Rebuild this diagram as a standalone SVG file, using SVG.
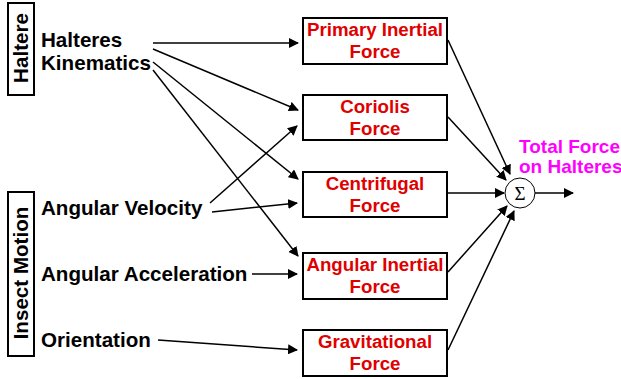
<svg xmlns="http://www.w3.org/2000/svg" width="621" height="379" viewBox="0 0 621 379">
<style>
.box{fill:#fff;stroke:#000;stroke-width:2}
.lbl{font-family:"Liberation Sans",Arial,sans-serif;font-weight:bold;font-size:20.6px;fill:#000}
.red{font-family:"Liberation Sans",Arial,sans-serif;font-weight:bold;font-size:18.7px;fill:#e00000;text-anchor:middle}
.mag{font-family:"Liberation Sans",Arial,sans-serif;font-weight:bold;font-size:19px;fill:#ff00ff}
.c{stroke:#000;stroke-width:1.5;fill:none;marker-end:url(#ah)}
</style>
<defs>
<marker id="ah" viewBox="0 0 10 10" refX="9" refY="5" markerWidth="10" markerHeight="10" markerUnits="userSpaceOnUse" orient="auto">
<path d="M0,0 L10,5 L0,10 z" fill="#000"/>
</marker>
</defs>
<rect width="621" height="379" fill="#fff"/>
<g id="haltere-group">
<rect class="box" x="8" y="3" width="26" height="92"/>
<text class="lbl" transform="translate(28,48) rotate(-90)" text-anchor="middle">Haltere</text>
</g>
<g id="insect-motion-group">
<rect class="box" x="8" y="192" width="26" height="164"/>
<text class="lbl" transform="translate(28,273) rotate(-90)" text-anchor="middle">Insect Motion</text>
</g>
<g id="halteres-kinematics">
<text class="lbl" x="41" y="47">Halteres</text>
<text class="lbl" x="41" y="70">Kinematics</text>
</g>
<g id="angular-velocity"><text class="lbl" x="41" y="215">Angular Velocity</text></g>
<g id="angular-acceleration"><text class="lbl" x="41" y="281">Angular Acceleration</text></g>
<g id="orientation"><text class="lbl" x="41" y="347">Orientation</text></g>
<g id="primary-inertial">
<rect class="box" x="303" y="18" width="144" height="46"/>
<text class="red" x="375" y="36">Primary Inertial</text>
<text class="red" x="375" y="58">Force</text>
</g>
<g id="coriolis">
<rect class="box" x="303" y="95" width="144" height="45"/>
<text class="red" x="375" y="113">Coriolis</text>
<text class="red" x="375" y="135">Force</text>
</g>
<g id="centrifugal">
<rect class="box" x="303" y="172" width="144" height="45"/>
<text class="red" x="375" y="190">Centrifugal</text>
<text class="red" x="375" y="212">Force</text>
</g>
<g id="angular-inertial">
<rect class="box" x="303" y="253" width="144" height="46"/>
<text class="red" x="375" y="271">Angular Inertial</text>
<text class="red" x="375" y="293">Force</text>
</g>
<g id="gravitational">
<rect class="box" x="303" y="330" width="144" height="46"/>
<text class="red" x="375" y="348">Gravitational</text>
<text class="red" x="375" y="370">Force</text>
</g>
<g id="sum">
<circle cx="520" cy="193" r="15" fill="#fff" stroke="#000" stroke-width="1"/>
<text x="520" y="200" text-anchor="middle" font-family="'Liberation Serif',serif" font-size="19">Σ</text>
</g>
<g id="total-force">
<text class="mag" x="519" y="153">Total Force</text>
<text class="mag" x="519" y="173">on Halteres</text>
</g>
<g id="connectors">
<line class="c" x1="153" y1="43" x2="298" y2="43"/>
<line class="c" x1="153" y1="49" x2="298" y2="110"/>
<line class="c" x1="153" y1="62" x2="298" y2="179"/>
<line class="c" x1="153" y1="70" x2="298" y2="256"/>
<line class="c" x1="210" y1="203" x2="297" y2="126"/>
<line class="c" x1="212" y1="212" x2="297" y2="203"/>
<line class="c" x1="252" y1="274" x2="297" y2="274"/>
<line class="c" x1="158" y1="340" x2="297" y2="350"/>
<line class="c" x1="448" y1="40" x2="510" y2="174"/>
<line class="c" x1="448" y1="117" x2="506" y2="180"/>
<line class="c" x1="448" y1="193" x2="504" y2="193"/>
<line class="c" x1="448" y1="272" x2="507" y2="206"/>
<line class="c" x1="448" y1="350" x2="514" y2="211"/>
<line class="c" x1="535" y1="193" x2="573" y2="193"/>
</g>
</svg>
